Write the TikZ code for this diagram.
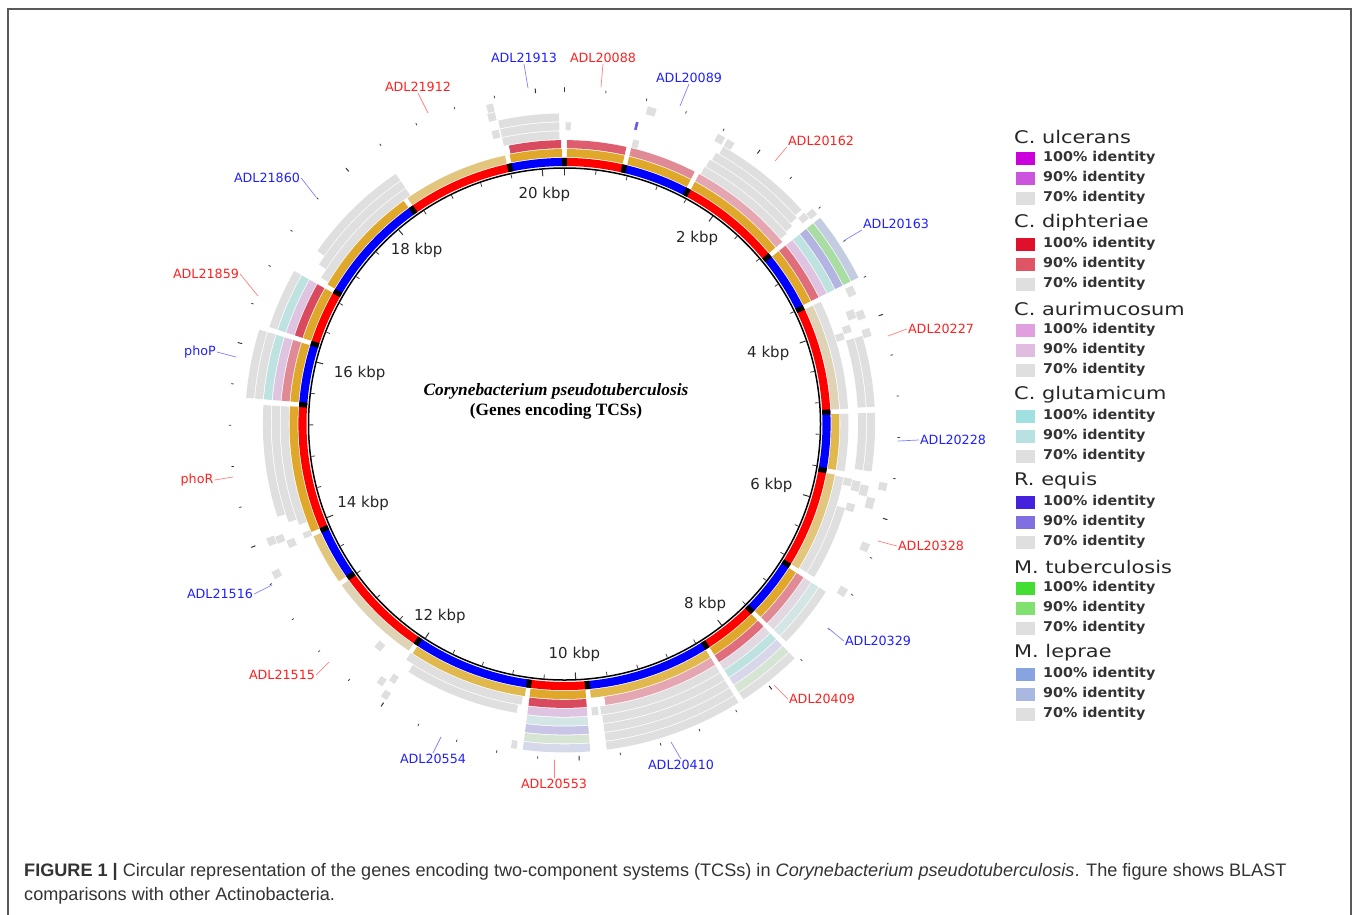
\documentclass[tikz,border=0pt]{standalone}
\usepackage{fontspec}
\setmainfont{DejaVu Sans}
\newfontfamily\capfont{Liberation Sans}
\newfontfamily\serfont{Liberation Serif}
\definecolor{gred}{HTML}{FF0000}
\definecolor{gblue}{HTML}{0000FF}
\definecolor{cGold}{HTML}{E0A82A}
\definecolor{cGoldM}{HTML}{E1B84E}
\definecolor{cGoldL}{HTML}{E3C67E}
\definecolor{cTan}{HTML}{DFD3B5}
\definecolor{cRd}{HTML}{D94A5E}
\definecolor{cRd2}{HTML}{DE5E70}
\definecolor{cRdM}{HTML}{E06D7C}
\definecolor{cPk}{HTML}{E08A96}
\definecolor{cRdL}{HTML}{E4A6B0}
\definecolor{cLil}{HTML}{DEC4E0}
\definecolor{cLilL}{HTML}{E2D8E2}
\definecolor{cCy}{HTML}{BEE2E0}
\definecolor{cCyL}{HTML}{D3E6E5}
\definecolor{cLav}{HTML}{B4B4E2}
\definecolor{cLavM}{HTML}{C8C5E6}
\definecolor{cLavL}{HTML}{D8D7EA}
\definecolor{cGrn}{HTML}{AADDA3}
\definecolor{cGrnL}{HTML}{D6E4D4}
\definecolor{cBg}{HTML}{C4CCE2}
\definecolor{cBgL}{HTML}{D5D9E9}
\definecolor{cGry}{HTML}{DFDFDF}
\definecolor{cEq}{HTML}{6A5FE0}
\definecolor{labr}{HTML}{FF2020}
\definecolor{labb}{HTML}{2020FF}
\definecolor{cLeadR}{HTML}{FF8080}
\definecolor{cLeadB}{HTML}{8080FF}
\definecolor{ulA}{HTML}{CC00DD}
\definecolor{ulB}{HTML}{CC55DD}
\definecolor{diA}{HTML}{E0102C}
\definecolor{diB}{HTML}{E05566}
\definecolor{auA}{HTML}{E0A0E0}
\definecolor{auB}{HTML}{E0BCE0}
\definecolor{glA}{HTML}{A0E0E0}
\definecolor{glB}{HTML}{B8E2E2}
\definecolor{eqA}{HTML}{4422DD}
\definecolor{eqB}{HTML}{7F6FE0}
\definecolor{tbA}{HTML}{44DD33}
\definecolor{tbB}{HTML}{80E070}
\definecolor{lpA}{HTML}{88A4E0}
\definecolor{lpB}{HTML}{A8B8E0}
\newcommand\ringseg[4]{%
  \pgfmathsetmacro\ri{258+8.9*#3}%
  \pgfmathsetmacro\ro{\ri+8.1}%
  \fill[#4] ({90-(#1)}:\ri) arc[start angle={90-(#1)},end angle={90-(#2)},radius=\ri]
    -- ({90-(#2)}:\ro) arc[start angle={90-(#2)},end angle={90-(#1)},radius=\ro] -- cycle;}
\begin{document}
\begin{tikzpicture}[x=1pt,y=1pt,line cap=round,
  glblr/.style={font=\fontsize{12.7}{14}\selectfont,text=labr,inner sep=1pt},
  glblb/.style={font=\fontsize{12.7}{14}\selectfont,text=labb,inner sep=1pt},
  leadr/.style={draw=cLeadR,line width=0.7pt},
  leadb/.style={draw=cLeadB,line width=0.7pt},
  ticklbl/.style={font=\fontsize{15}{17}\selectfont,text=black!85,inner sep=1pt},
  tickmin/.style={draw=black!75,line width=0.8pt},
  tickmaj/.style={draw=black!80,line width=1pt},
  legtitle/.style={anchor=west,inner sep=0pt,font=\fontsize{17.4}{19}\selectfont,text=black!85},
  legsq/.style={minimum width=19pt,minimum height=13pt,inner sep=0pt},
  legtxt/.style={anchor=west,inner sep=0pt,font=\bfseries\fontsize{13.5}{15}\selectfont,text=black!80},
  panel/.style={draw=black!65,line width=1.6pt},
  capt/.style={anchor=base west,inner sep=0pt,font=\capfont\fontsize{18.1}{21}\selectfont,text=black!80}]
\useasboundingbox (0,0) rectangle (1358,-914);
\draw[panel] (8,-930) -- (8,-9) -- (1351,-9) -- (1351,-930);
\coordinate (O) at (564.5,-424);
\begin{scope}[shift={(O)}]
\foreach \a/\b in {0/13.1,27.8/50.6,64/87.4,100.1/122.2,135/147.5,175/187.8,214/234.6,246.4/274.2,287.7/300,324.7/348}
  {\ringseg{\a}{\b}{0}{gred}}
\foreach \a/\b in {13.1/27.8,50.6/64,87.4/100.1,122.2/135,147.5/175,187.8/214,234.6/246.4,274.2/287.7,300/324.7,348/360}
  {\ringseg{\a}{\b}{0}{gblue}}
\foreach \m in {0,13.1,27.8,50.6,64,87.4,100.1,122.2,135,147.5,175,187.8,214,234.6,246.4,274.2,287.7,300,324.7,348}
  {\ringseg{\m-0.55}{\m+0.55}{0}{black}}
\foreach \a/\b/\k/\c in {
  0.5/12.6/1/cGold,0.5/12.6/2/cRd2,13.3/13.8/5/cEq,14.7/16.3/7/cGry,13.6/14.8/3/cGry,
  13.6/27.3/1/cGold,13.6/27.3/2/cPk,
  28.3/50.1/1/cGold,28.3/50.1/2/cRdL,28.6/49.4/3/cGry,28.8/49/4/cGry,29.2/48.4/5/cGry,29.8/47.9/6/cGry,
  27.9/29.3/7/cGry,29.8/31.2/7/cGry,48.6/49.9/6/cGry,49/50.3/7/cGry,
  51.1/63.5/1/cGold,51.1/63.5/2/cRdM,51.1/63.5/3/cLil,51.1/63.5/4/cCy,51.1/63.5/5/cLav,51.1/63.5/6/cGrn,51.1/63.5/7/cBg,
  64.3/66/6/cGry,
  64.5/86.9/1/cTan,64.5/86.9/2/cGry,73.5/86.8/4/cGry,73.5/86.8/5/cGry,68.3/70/5/cGry,69/70.6/6/cGry,
  70.8/72.2/4/cGry,71.8/73.2/3/cGry,72.5/74/6/cGry,
  87.9/99.6/1/cGoldM,87.9/99.6/2/cGry,87.9/98.8/4/cGry,87.9/98.8/5/cGry,
  100.6/121.7/1/cGoldL,100.8/121.5/2/cGry,106.7/121.5/3/cGry,100.8/102.3/3/cGry,101/103/4/cGry,
  101.5/103.5/5/cGry,100.4/101.8/7/cGry,103.5/105.5/6/cGry,105.5/107/4/cGry,111.5/113/7/cGry,120.3/121.8/7/cGry,
  122.7/134.5/1/cGold,122.7/134.5/2/cPk,122.7/134.5/3/cLilL,122.7/134.5/4/cCyL,122.7/134.5/5/cGry,
  135.5/147/1/cGold,135.5/147/2/cRdM,135.5/147/3/cLilL,135.5/147/4/cCy,135.5/147/5/cLavL,135.5/147/6/cGrnL,135.5/147/7/cGry,
  148/174.5/1/cGoldM,148/171.7/2/cRdL,148/172.8/3/cGry,148/172.6/4/cGry,148/172.6/5/cGry,148/172.6/6/cGry,148/172.6/7/cGry,
  173.3/174.6/3/cGry,
  175.5/187.3/1/cGold,175.5/187.3/2/cRd,175.5/187.3/3/cLil,175.5/187.3/4/cCyL,175.5/187.3/5/cLavM,175.5/187.3/6/cGrnL,175.5/187.3/7/cBgL,
  188.4/189.4/7/cGry,
  188.3/213.5/1/cGoldM,188.7/213.9/2/cGry,189.4/212.2/3/cGry,
  214.5/234.1/1/cTan,219/220.5/3/cGry,214.8/216/6/cGry,213.2/214.4/5/cGry,212.8/214/7/cGry,
  235.1/245.9/1/cGoldL,247.5/249/6/cGry,247.3/248.7/5/cGry,245.7/247.2/4/cGry,246.2/247.4/2/cGry,241.8/243.2/7/cGry,
  246.9/273.7/1/cGold,249.2/273.6/2/cGry,250.4/273.6/3/cGry,252.1/273.6/4/cGry,
  274.7/287.2/1/cGold,274.7/287.2/2/cPk,274.7/287.2/3/cLil,274.7/287.2/4/cCy,274.7/287.2/5/cGry,274.7/287.2/6/cGry,
  288.2/299.5/1/cGold,288.2/299.5/2/cRd,288.2/299.5/3/cLil,288.2/299.5/4/cCy,288.2/299.5/5/cGry,
  300.5/324.2/1/cGold,301/326/2/cGry,303/326/3/cGry,305/326/4/cGry,
  325.2/347.5/1/cGoldL,346/347.4/4/cGry,346/347.4/6/cGry,346.2/347.4/7/cGry,
  348.5/359.5/1/cGold,348.7/359.3/2/cRd,347.7/359/3/cGry,347.7/359/4/cGry,347.7/359/5/cGry,0.2/1.2/4/cGry}
  {\ringseg{\a}{\b}{\k}{\c}}
\draw[line width=1.5pt] (0,0) circle[radius=256];
\foreach \n in {0,...,50}{
  \pgfmathsetmacro\t{90-7.1*\n}
  \pgfmathtruncatemacro\mj{mod(\n,5)==0}
  \ifnum\mj=1
    \draw[tickmaj] (\t:249) -- (\t:255);
    \draw[tickmaj] (\t:332.5) -- (\t:336.5);
  \else
    \draw[tickmin] (\t:251.5) -- (\t:255);
    \draw[tickmin] (\t:333.5) -- (\t:335.5);
  \fi}
\foreach \k in {1,...,10}{
  \pgfmathsetmacro\t{90-35.5*\k}
  \pgfmathtruncatemacro\kb{2*\k}
  \node[ticklbl,anchor=\t] (tk\kb) at (\t:239) {\kb\ kbp};}
\end{scope}
\node[align=center,font=\serfont\bfseries\fontsize{17.3}{20}\selectfont] (ttl) at (556,-401)
  {\textit{Corynebacterium pseudotuberculosis}\\(Genes encoding TCSs)};
\foreach \nm/\lx/\ly/\ex/\ey/\cl/\an in {
  ADL21913/524/58/528/88/b/south,ADL20088/603/58/601/87/r/south,ADL20089/689/78/680/106/b/south,
  ADL21912/418/87/428/113/r/south,ADL20162/821/141/775/161/r/south west,ADL21860/267/178/316/197/b/east,
  ADL20163/896/224/845/240/b/south west,ADL21859/206/274/258/296/r/east,ADL20227/941/329/888/336/r/west,
  phoP/200/352/236/357/b/east,ADL20228/953/440/898/441/b/west,phoR/197/480/233/477/r/east,
  ADL20328/931/546/878/541/r/west,ADL21516/220/594/272/585/b/east,ADL20329/878/641/828/628/b/west,
  ADL21515/282/675/329/662/r/east,ADL20409/822/699/774/685/r/west,ADL20410/681/765/671/742/b/north,
  ADL20554/433/759/441/737/b/north,ADL20553/554/784/554/760/r/north}
  {\coordinate (e\nm) at (\ex,-\ey);
   \node[glbl\cl] (\nm) at (\lx,-\ly) {\nm};
   \draw[lead\cl] (\nm.\an) -- (e\nm);}
\foreach \k/\sp/\ca/\cb in {0/C. ulcerans/ulA/ulB,1/C. diphteriae/diA/diB,2/C. aurimucosum/auA/auB,
  3/C. glutamicum/glA/glB,4/R. equis/eqA/eqB,5/M. tuberculosis/tbA/tbB,6/M. leprae/lpA/lpB}{
  \pgfmathsetmacro\y{-137-86*\k}
  \node[legtitle] (sp\k) at (1014,\y) {\scalebox{1.2}[1]{\sp}};
  \foreach \j/\c/\p in {1/\ca/100,2/\cb/90,3/cGry/70}{
    \pgfmathsetmacro\yy{\y-21-20*(\j-1)}
    \node[legsq,fill=\c] (sq\k\j) at (1025.5,\yy) {};
    \node[legtxt] (tx\k\j) at (1043,\yy) {\scalebox{1.06}[1]{\p\% identity}};}}
\node[capt] (cap1) at (24,-876) {\textbf{FIGURE 1 |} Circular representation of the genes encoding two-component systems (TCSs) in \textit{Corynebacterium pseudotuberculosis}. The figure shows BLAST};
\node[capt] (cap2) at (24,-900) {comparisons with other Actinobacteria.};
\end{tikzpicture}
\end{document}
